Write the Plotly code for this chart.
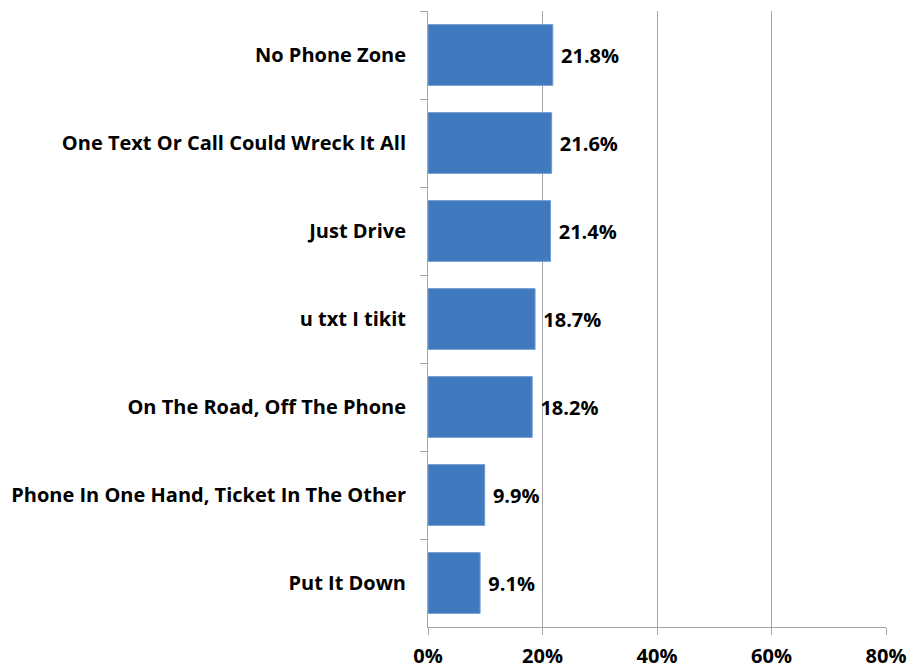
import plotly.graph_objects as go

categories = [
    "No Phone Zone",
    "One Text Or Call Could Wreck It All",
    "Just Drive",
    "u txt I tikit",
    "On The Road, Off The Phone",
    "Phone In One Hand, Ticket In The Other",
    "Put It Down",
]
shares = [0.218, 0.216, 0.214, 0.187, 0.182, 0.099, 0.091]
x_ticks = [0, 0.2, 0.4, 0.6, 0.8]
x_tick_labels = ["0%", "20%", "40%", "60%", "80%"]

FONT = "Open Sans"
GRID = "#a6a6a6"

fig = go.Figure(
    go.Bar(
        x=shares,
        y=categories,
        orientation="h",
        marker=dict(color="#4079bd", line=dict(color="#6e9ad2", width=1)),
        text=[f" {v * 100:.1f}%" for v in shares],
        textposition="outside",
        textfont=dict(family=FONT, size=20, color="#000000", weight="bold"),
        cliponaxis=False,
    )
)

fig.update_layout(
    width=910,
    height=669,
    margin=dict(l=428, r=24, t=11, b=42),
    plot_bgcolor="white",
    paper_bgcolor="white",
    bargap=0.31,
    showlegend=False,
    font=dict(family=FONT, color="#000000"),
)

fig.update_xaxes(
    range=[0, 0.8],
    tickvals=x_ticks,
    ticktext=x_tick_labels,
    automargin=False,
    showgrid=True,
    gridcolor=GRID,
    gridwidth=1,
    zeroline=False,
    showline=True,
    linecolor=GRID,
    linewidth=1,
    ticks="outside",
    ticklen=7,
    tickcolor=GRID,
    ticklabelstandoff=4,
    tickfont=dict(family=FONT, size=20, color="#000000", weight="bold"),
)

fig.update_yaxes(
    autorange="reversed",
    automargin=False,
    showgrid=False,
    zeroline=False,
    showline=True,
    linecolor=GRID,
    linewidth=1,
    ticks="outside",
    ticklen=7,
    tickcolor=GRID,
    tickson="boundaries",
    ticklabelstandoff=17,
    tickfont=dict(family=FONT, size=20, color="#000000", weight="bold"),
)

fig.write_html("out.html")
